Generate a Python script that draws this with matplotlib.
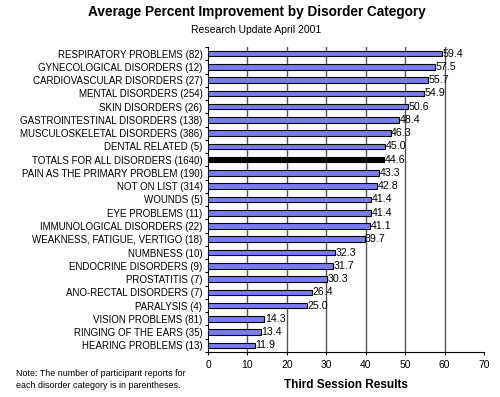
import numpy as np
import matplotlib.pyplot as plt

plt.rcParams['font.family'] = ['Liberation Sans', 'DejaVu Sans']

# data
categories = [
    "RESPIRATORY PROBLEMS (82)",
    "GYNECOLOGICAL DISORDERS (12)",
    "CARDIOVASCULAR DISORDERS (27)",
    "MENTAL DISORDERS (254)",
    "SKIN DISORDERS (26)",
    "GASTROINTESTINAL DISORDERS (138)",
    "MUSCULOSKELETAL DISORDERS (386)",
    "DENTAL RELATED (5)",
    "TOTALS FOR ALL DISORDERS (1640)",
    "PAIN AS THE PRIMARY PROBLEM (190)",
    "NOT ON LIST (314)",
    "WOUNDS (5)",
    "EYE PROBLEMS (11)",
    "IMMUNOLOGICAL DISORDERS (22)",
    "WEAKNESS, FATIGUE, VERTIGO (18)",
    "NUMBNESS (10)",
    "ENDOCRINE DISORDERS (9)",
    "PROSTATITIS (7)",
    "ANO-RECTAL DISORDERS (7)",
    "PARALYSIS (4)",
    "VISION PROBLEMS (81)",
    "RINGING OF THE EARS (35)",
    "HEARING PROBLEMS (13)",
]
values = [59.4, 57.5, 55.7, 54.9, 50.6, 48.4, 46.3, 45.0, 44.6, 43.3, 42.8,
          41.4, 41.4, 41.1, 39.7, 32.3, 31.7, 30.3, 26.4, 25.0, 14.3, 13.4, 11.9]
total_label = "TOTALS FOR ALL DISORDERS (1640)"

fig = plt.figure(figsize=(5.0, 3.97), dpi=100)
ax = fig.add_axes([0.416, 0.1134, 0.552, 0.7682])

n = len(categories)
ypos = np.arange(n)
colors = ['black' if c == total_label else '#7b7bf2' for c in categories]
ax.barh(ypos, values, height=0.42, color=colors, edgecolor='black', linewidth=0.8, zorder=3)

# value labels just right of each bar
for y, v in zip(ypos, values):
    ax.text(v + 0.15, y, f"{v:.1f}", va='center', ha='left', fontsize=7.7, zorder=4)

ax.set_ylim(n - 0.5, -0.5)
ax.set_xlim(0, 70)
ax.set_yticks(ypos)
ax.set_yticklabels(categories, fontsize=7)
ax.set_yticks(np.arange(n + 1) - 0.5, minor=True)
ax.tick_params(axis='y', which='major', length=0, pad=4)
ax.tick_params(axis='y', which='minor', length=2.5, width=0.8, direction='out')
ax.set_xticks(np.arange(0, 71, 10))
ax.tick_params(axis='x', labelsize=7.5, length=2.5, width=0.8)

for gx in range(10, 70, 10):
    ax.axvline(gx, color='#555555', linewidth=1.0, zorder=1)

ax.spines['top'].set_visible(False)
ax.spines['right'].set_visible(False)
ax.spines['left'].set_linewidth(0.8)
ax.spines['bottom'].set_linewidth(0.8)

ax.set_xlabel("Third Session Results", fontsize=8.5, fontweight='bold', labelpad=6)

fig.text(0.514, 0.97, "Average Percent Improvement by Disorder Category",
         ha='center', va='center', fontsize=9.8, fontweight='bold')
fig.text(0.513, 0.925, "Research Update April 2001", ha='center', va='center', fontsize=7.5)
fig.text(0.032, 0.045, "Note: The number of participant reports for\neach disorder category is in parentheses.",
         ha='left', va='center', fontsize=6.4, linespacing=1.45)

plt.savefig("out.png", dpi=100)
